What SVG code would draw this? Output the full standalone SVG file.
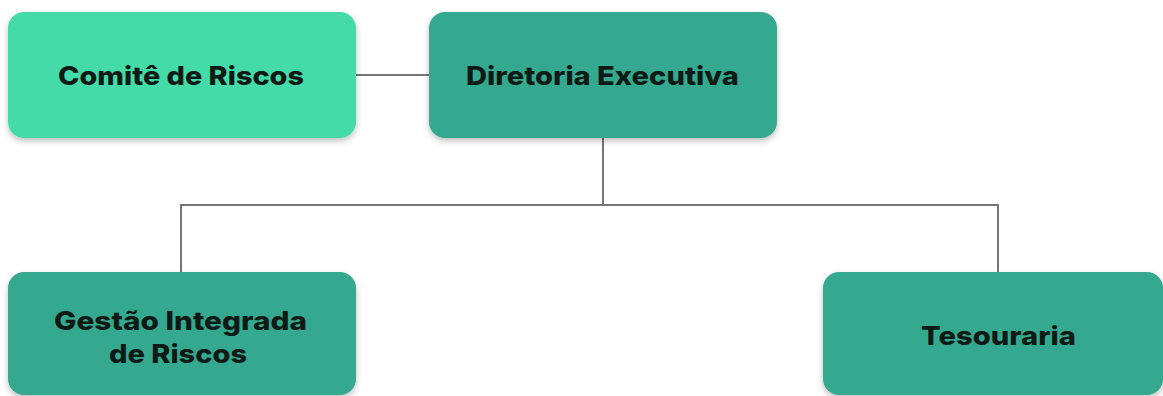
<svg xmlns="http://www.w3.org/2000/svg" width="1163" height="396" viewBox="0 0 1163 396">
<style>
.box{filter:url(#sh)}
.light{fill:#44dba8}
.dark{fill:#35a98f}
.t{font-family:Inter,"Liberation Sans",sans-serif;font-weight:800;font-size:26px;fill:#0e1a15;text-anchor:middle}
.c{stroke:#767676;stroke-width:2;fill:none}
</style>
<defs>
<filter id="sh" x="-10%" y="-20%" width="120%" height="150%">
<feDropShadow dx="0" dy="3" stdDeviation="3" flood-color="#000" flood-opacity="0.25"/>
</filter>
</defs>
<rect width="1163" height="396" fill="#ffffff"/>
<g id="connectors">
<line class="c" x1="356" y1="75" x2="429" y2="75"/>
<polyline class="c" points="603,138 603,205"/>
<polyline class="c" points="181,272 181,205 998,205 998,272"/>
</g>
<g id="comite">
<rect class="box light" x="8" y="12" width="348" height="126" rx="16"/>
<text class="t" x="181" y="85" textLength="246" lengthAdjust="spacingAndGlyphs">Comitê de Riscos</text>
</g>
<g id="diretoria">
<rect class="box dark" x="429" y="12" width="348" height="126" rx="16"/>
<text class="t" x="602.5" y="85" textLength="273" lengthAdjust="spacingAndGlyphs">Diretoria Executiva</text>
</g>
<g id="gestao">
<rect class="box dark" x="8" y="272" width="348" height="123" rx="16"/>
<text class="t" x="180.5" y="330" textLength="253" lengthAdjust="spacingAndGlyphs">Gestão Integrada</text>
<text class="t" x="178" y="363" textLength="138" lengthAdjust="spacingAndGlyphs">de Riscos</text>
</g>
<g id="tesouraria">
<rect class="box dark" x="823" y="272" width="340" height="123" rx="16"/>
<text class="t" x="998.5" y="345" textLength="155" lengthAdjust="spacingAndGlyphs">Tesouraria</text>
</g>
</svg>
